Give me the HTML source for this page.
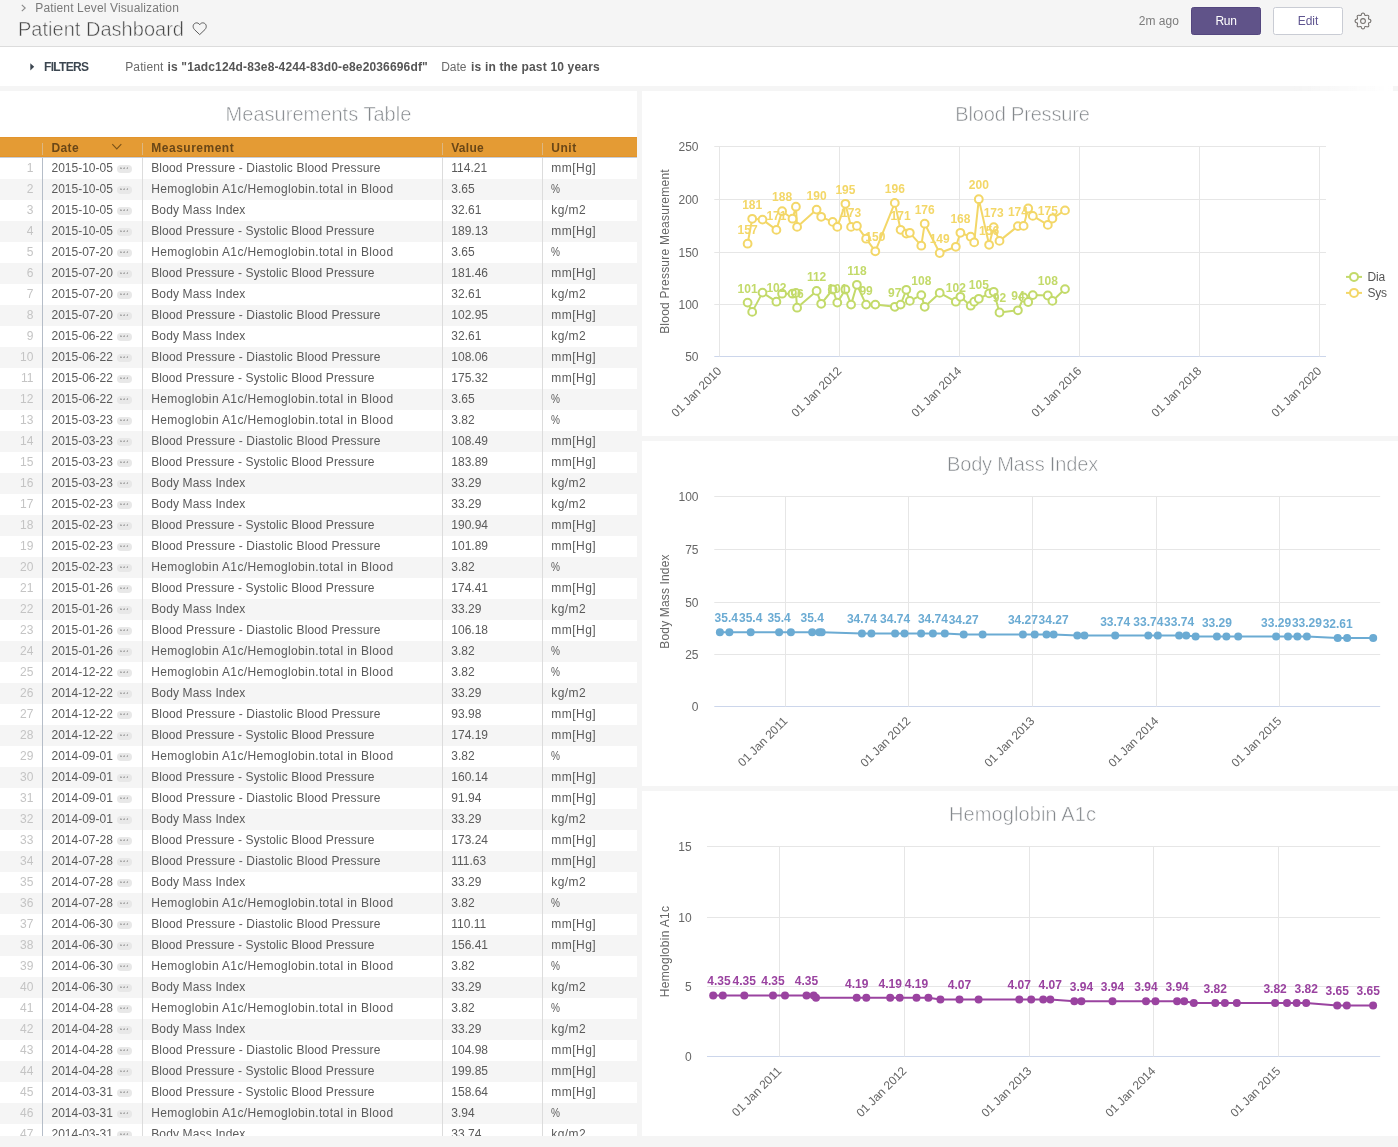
<!DOCTYPE html>
<html><head><meta charset="utf-8"><title>Patient Dashboard</title>
<style>
*{box-sizing:border-box}
html,body{margin:0;padding:0}
body{width:1398px;height:1147px;overflow:hidden;background:#f5f5f5;font-family:"Liberation Sans", sans-serif;font-size:12px;color:#5a5a5a;position:relative}
#wrap{position:absolute;left:0;top:0;width:1398px;height:1147px;overflow:hidden;will-change:transform}
.abs{position:absolute;white-space:pre}
#hdr{position:absolute;left:0;top:0;width:1398px;height:47px;background:#f5f5f5;border-bottom:1px solid #dcdcdc}
#flt{position:absolute;left:0;top:47px;width:1398px;height:39px;background:#fff}
.card{position:absolute;background:#fff;overflow:hidden}
.ttl{position:absolute;font-size:20px;color:#84888c;-webkit-text-stroke:.55px #fff;white-space:pre;text-align:center;line-height:24px}
#thead{position:absolute;left:0;top:46px;width:637px;height:20px;background:#e49b34;box-shadow:inset 0 1px 0 #e3942c,inset 0 -1px 0 #e3942c}
#thead span{position:absolute;top:1px;line-height:20px;font-weight:700;color:#6a4717;white-space:pre}
#thead i{position:absolute;top:6px;width:1px;height:12px;background:#dcb782}
#hline{position:absolute;left:0;top:66px;width:637px;height:1px;background:#c6ced8}
#tb{position:absolute;left:0;top:67px;width:637px}
.r{position:relative;height:21px;line-height:19px;white-space:pre}
.r:nth-child(even){background:#f5f5f5}
.r span{position:absolute;top:1px}
.n{right:603.6px;color:#c4c4c4}
.d{left:51.5px}
.p{left:117px;top:7px!important;width:15px;height:8px;border-radius:4px;background:radial-gradient(circle at 3.9px 3.25px,#ababab .7px,rgba(171,171,171,0) 1.1px),radial-gradient(circle at 7.2px 3.25px,#ababab .7px,rgba(171,171,171,0) 1.1px),radial-gradient(circle at 10.4px 3.25px,#ababab .7px,rgba(171,171,171,0) 1.1px),#e8e8e8}
.m{left:151.2px}
.m1{letter-spacing:.145px} .m2{letter-spacing:.1px} .m3{letter-spacing:.37px} .m4{letter-spacing:.15px}
.v{left:451.3px}
.u{left:551.3px}
.u1{letter-spacing:.48px} .u2{letter-spacing:.42px} .u3{display:inline-block;transform:scaleX(.84);transform-origin:0 50%}
.vl{position:absolute;top:46px;bottom:0;width:1px}
</style></head>
<body>
<div id="wrap">
<div id="hdr">
<svg style="position:absolute;left:20px;top:3px" width="8" height="10" viewBox="0 0 8 10"><path d="M1.8 1.8 L5.2 5 L1.8 8.2" fill="none" stroke="#8a8a8a" stroke-width="1.1"/></svg>
<span class="abs" style="left:35.3px;top:0;line-height:16px;font-size:12px;color:#7a7a7a;letter-spacing:.14px">Patient Level Visualization</span>
<span class="abs" style="left:18px;top:16px;line-height:26px;font-size:20px;color:#444;-webkit-text-stroke:.55px #f5f5f5;letter-spacing:.02px">Patient Dashboard</span>
<svg style="position:absolute;left:191px;top:21px" width="18" height="16" viewBox="191 21 18 16"><path d="M199.7 34.6 L194.4 29.5 C192.4 27.3 192.8 23.9 195.6 23 C197.2 22.5 198.8 23.2 199.7 24.7 C200.6 23.2 202.2 22.5 203.8 23 C206.6 23.9 207 27.3 205 29.5 Z" fill="none" stroke="#5c5c5c" stroke-width="1" stroke-linejoin="round"/></svg>
<span class="abs" style="left:1138.8px;top:11px;line-height:20px;font-size:12px;color:#7c7c7c">2m ago</span>
<div style="position:absolute;left:1191px;top:7px;width:70px;height:28px;border-radius:2.5px;background:#605389;border:1px solid #54477f;color:#fff;text-align:center;line-height:27px;letter-spacing:-.3px">Run</div>
<div style="position:absolute;left:1273px;top:7px;width:70px;height:28px;border-radius:2.5px;background:#fff;border:1px solid #c9ccd4;color:#5f5590;text-align:center;line-height:27px">Edit</div>
<svg style="position:absolute;left:1353px;top:11px" width="20" height="20" viewBox="-10 -10 20 20"><path d="M-1.90 -5.55 C-1.70 -7.30 -1.00 -7.95 0.00 -7.95 C1.00 -7.95 1.70 -7.30 1.90 -5.55 C3.00 -5.30 3.80 -5.75 4.70 -5.85 Q5.85 -5.85 5.85 -4.70 C5.75 -3.80 5.30 -3.00 5.55 -1.90 L5.55 -1.90 C7.30 -1.70 7.95 -1.00 7.95 0.00 C7.95 1.00 7.30 1.70 5.55 1.90 C5.30 3.00 5.75 3.80 5.85 4.70 Q5.85 5.85 4.70 5.85 C3.80 5.75 3.00 5.30 1.90 5.55 L1.90 5.55 C1.70 7.30 1.00 7.95 0.00 7.95 C-1.00 7.95 -1.70 7.30 -1.90 5.55 C-3.00 5.30 -3.80 5.75 -4.70 5.85 Q-5.85 5.85 -5.85 4.70 C-5.75 3.80 -5.30 3.00 -5.55 1.90 L-5.55 1.90 C-7.30 1.70 -7.95 1.00 -7.95 0.00 C-7.95 -1.00 -7.30 -1.70 -5.55 -1.90 C-5.30 -3.00 -5.75 -3.80 -5.85 -4.70 Q-5.85 -5.85 -4.70 -5.85 C-3.80 -5.75 -3.00 -5.30 -1.90 -5.55 Z" fill="none" stroke="#75716e" stroke-width="1.05" stroke-linejoin="round"/><circle cx="0" cy="0" r="2.4" fill="none" stroke="#75716e" stroke-width="1.05"/></svg>
</div>
<div id="flt">
<svg style="position:absolute;left:29px;top:15px" width="8" height="10" viewBox="0 0 8 10"><path d="M1.3 1.2 L5.2 4.8 L1.3 8.4 Z" fill="#3c4650"/></svg>
<span class="abs" style="left:44px;top:10px;line-height:20px;font-weight:700;color:#3c4650;letter-spacing:-.7px">FILTERS</span>
<span class="abs" style="left:125.2px;top:10px;line-height:20px;color:#6a6a6a;letter-spacing:.13px">Patient</span>
<span class="abs" style="left:167.5px;top:10px;line-height:20px;font-weight:700;color:#555;letter-spacing:.15px">is "1adc124d-83e8-4244-83d0-e8e2036696df"</span>
<span class="abs" style="left:441.2px;top:10px;line-height:20px;color:#6a6a6a">Date</span>
<span class="abs" style="left:471px;top:10px;line-height:20px;font-weight:700;color:#555;letter-spacing:.18px">is in the past 10 years</span>
</div>
<div style="position:absolute;left:1293px;top:47px;width:100px;height:44px;background:linear-gradient(to right,rgba(255,255,255,0),#fff)"></div>
<div class="card" id="tcard" style="left:0;top:91px;width:637px;height:1045px">
<div class="ttl" style="left:0;width:637px;top:10.5px;letter-spacing:.03px">Measurements Table</div>
<div id="thead"><i style="left:42px"></i><i style="left:142px"></i><i style="left:442px"></i><i style="left:542px"></i><span style="left:51.5px;letter-spacing:.37px">Date</span><svg style="position:absolute;left:111px;top:6px" width="12" height="8" viewBox="0 0 12 8"><path d="M1.3 1.2 L5.8 5.9 L10.3 1.2" fill="none" stroke="#7a5218" stroke-width="1.1"/></svg><span style="left:151.3px;letter-spacing:.5px">Measurement</span><span style="left:451.2px;letter-spacing:.3px">Value</span><span style="left:551.3px;letter-spacing:.5px">Unit</span></div><div id="hline"></div>
<div id="tb">
<div class="r"><span class="n">1</span><span class="d">2015-10-05</span><span class="p"></span><span class="m m1">Blood Pressure - Diastolic Blood Pressure</span><span class="v">114.21</span><span class="u u1">mm[Hg]</span></div>
<div class="r"><span class="n">2</span><span class="d">2015-10-05</span><span class="p"></span><span class="m m3">Hemoglobin A1c/Hemoglobin.total in Blood</span><span class="v">3.65</span><span class="u u3">%</span></div>
<div class="r"><span class="n">3</span><span class="d">2015-10-05</span><span class="p"></span><span class="m m4">Body Mass Index</span><span class="v">32.61</span><span class="u u2">kg/m2</span></div>
<div class="r"><span class="n">4</span><span class="d">2015-10-05</span><span class="p"></span><span class="m m2">Blood Pressure - Systolic Blood Pressure</span><span class="v">189.13</span><span class="u u1">mm[Hg]</span></div>
<div class="r"><span class="n">5</span><span class="d">2015-07-20</span><span class="p"></span><span class="m m3">Hemoglobin A1c/Hemoglobin.total in Blood</span><span class="v">3.65</span><span class="u u3">%</span></div>
<div class="r"><span class="n">6</span><span class="d">2015-07-20</span><span class="p"></span><span class="m m2">Blood Pressure - Systolic Blood Pressure</span><span class="v">181.46</span><span class="u u1">mm[Hg]</span></div>
<div class="r"><span class="n">7</span><span class="d">2015-07-20</span><span class="p"></span><span class="m m4">Body Mass Index</span><span class="v">32.61</span><span class="u u2">kg/m2</span></div>
<div class="r"><span class="n">8</span><span class="d">2015-07-20</span><span class="p"></span><span class="m m1">Blood Pressure - Diastolic Blood Pressure</span><span class="v">102.95</span><span class="u u1">mm[Hg]</span></div>
<div class="r"><span class="n">9</span><span class="d">2015-06-22</span><span class="p"></span><span class="m m4">Body Mass Index</span><span class="v">32.61</span><span class="u u2">kg/m2</span></div>
<div class="r"><span class="n">10</span><span class="d">2015-06-22</span><span class="p"></span><span class="m m1">Blood Pressure - Diastolic Blood Pressure</span><span class="v">108.06</span><span class="u u1">mm[Hg]</span></div>
<div class="r"><span class="n">11</span><span class="d">2015-06-22</span><span class="p"></span><span class="m m2">Blood Pressure - Systolic Blood Pressure</span><span class="v">175.32</span><span class="u u1">mm[Hg]</span></div>
<div class="r"><span class="n">12</span><span class="d">2015-06-22</span><span class="p"></span><span class="m m3">Hemoglobin A1c/Hemoglobin.total in Blood</span><span class="v">3.65</span><span class="u u3">%</span></div>
<div class="r"><span class="n">13</span><span class="d">2015-03-23</span><span class="p"></span><span class="m m3">Hemoglobin A1c/Hemoglobin.total in Blood</span><span class="v">3.82</span><span class="u u3">%</span></div>
<div class="r"><span class="n">14</span><span class="d">2015-03-23</span><span class="p"></span><span class="m m1">Blood Pressure - Diastolic Blood Pressure</span><span class="v">108.49</span><span class="u u1">mm[Hg]</span></div>
<div class="r"><span class="n">15</span><span class="d">2015-03-23</span><span class="p"></span><span class="m m2">Blood Pressure - Systolic Blood Pressure</span><span class="v">183.89</span><span class="u u1">mm[Hg]</span></div>
<div class="r"><span class="n">16</span><span class="d">2015-03-23</span><span class="p"></span><span class="m m4">Body Mass Index</span><span class="v">33.29</span><span class="u u2">kg/m2</span></div>
<div class="r"><span class="n">17</span><span class="d">2015-02-23</span><span class="p"></span><span class="m m4">Body Mass Index</span><span class="v">33.29</span><span class="u u2">kg/m2</span></div>
<div class="r"><span class="n">18</span><span class="d">2015-02-23</span><span class="p"></span><span class="m m2">Blood Pressure - Systolic Blood Pressure</span><span class="v">190.94</span><span class="u u1">mm[Hg]</span></div>
<div class="r"><span class="n">19</span><span class="d">2015-02-23</span><span class="p"></span><span class="m m1">Blood Pressure - Diastolic Blood Pressure</span><span class="v">101.89</span><span class="u u1">mm[Hg]</span></div>
<div class="r"><span class="n">20</span><span class="d">2015-02-23</span><span class="p"></span><span class="m m3">Hemoglobin A1c/Hemoglobin.total in Blood</span><span class="v">3.82</span><span class="u u3">%</span></div>
<div class="r"><span class="n">21</span><span class="d">2015-01-26</span><span class="p"></span><span class="m m2">Blood Pressure - Systolic Blood Pressure</span><span class="v">174.41</span><span class="u u1">mm[Hg]</span></div>
<div class="r"><span class="n">22</span><span class="d">2015-01-26</span><span class="p"></span><span class="m m4">Body Mass Index</span><span class="v">33.29</span><span class="u u2">kg/m2</span></div>
<div class="r"><span class="n">23</span><span class="d">2015-01-26</span><span class="p"></span><span class="m m1">Blood Pressure - Diastolic Blood Pressure</span><span class="v">106.18</span><span class="u u1">mm[Hg]</span></div>
<div class="r"><span class="n">24</span><span class="d">2015-01-26</span><span class="p"></span><span class="m m3">Hemoglobin A1c/Hemoglobin.total in Blood</span><span class="v">3.82</span><span class="u u3">%</span></div>
<div class="r"><span class="n">25</span><span class="d">2014-12-22</span><span class="p"></span><span class="m m3">Hemoglobin A1c/Hemoglobin.total in Blood</span><span class="v">3.82</span><span class="u u3">%</span></div>
<div class="r"><span class="n">26</span><span class="d">2014-12-22</span><span class="p"></span><span class="m m4">Body Mass Index</span><span class="v">33.29</span><span class="u u2">kg/m2</span></div>
<div class="r"><span class="n">27</span><span class="d">2014-12-22</span><span class="p"></span><span class="m m1">Blood Pressure - Diastolic Blood Pressure</span><span class="v">93.98</span><span class="u u1">mm[Hg]</span></div>
<div class="r"><span class="n">28</span><span class="d">2014-12-22</span><span class="p"></span><span class="m m2">Blood Pressure - Systolic Blood Pressure</span><span class="v">174.19</span><span class="u u1">mm[Hg]</span></div>
<div class="r"><span class="n">29</span><span class="d">2014-09-01</span><span class="p"></span><span class="m m3">Hemoglobin A1c/Hemoglobin.total in Blood</span><span class="v">3.82</span><span class="u u3">%</span></div>
<div class="r"><span class="n">30</span><span class="d">2014-09-01</span><span class="p"></span><span class="m m2">Blood Pressure - Systolic Blood Pressure</span><span class="v">160.14</span><span class="u u1">mm[Hg]</span></div>
<div class="r"><span class="n">31</span><span class="d">2014-09-01</span><span class="p"></span><span class="m m1">Blood Pressure - Diastolic Blood Pressure</span><span class="v">91.94</span><span class="u u1">mm[Hg]</span></div>
<div class="r"><span class="n">32</span><span class="d">2014-09-01</span><span class="p"></span><span class="m m4">Body Mass Index</span><span class="v">33.29</span><span class="u u2">kg/m2</span></div>
<div class="r"><span class="n">33</span><span class="d">2014-07-28</span><span class="p"></span><span class="m m2">Blood Pressure - Systolic Blood Pressure</span><span class="v">173.24</span><span class="u u1">mm[Hg]</span></div>
<div class="r"><span class="n">34</span><span class="d">2014-07-28</span><span class="p"></span><span class="m m1">Blood Pressure - Diastolic Blood Pressure</span><span class="v">111.63</span><span class="u u1">mm[Hg]</span></div>
<div class="r"><span class="n">35</span><span class="d">2014-07-28</span><span class="p"></span><span class="m m4">Body Mass Index</span><span class="v">33.29</span><span class="u u2">kg/m2</span></div>
<div class="r"><span class="n">36</span><span class="d">2014-07-28</span><span class="p"></span><span class="m m3">Hemoglobin A1c/Hemoglobin.total in Blood</span><span class="v">3.82</span><span class="u u3">%</span></div>
<div class="r"><span class="n">37</span><span class="d">2014-06-30</span><span class="p"></span><span class="m m1">Blood Pressure - Diastolic Blood Pressure</span><span class="v">110.11</span><span class="u u1">mm[Hg]</span></div>
<div class="r"><span class="n">38</span><span class="d">2014-06-30</span><span class="p"></span><span class="m m2">Blood Pressure - Systolic Blood Pressure</span><span class="v">156.41</span><span class="u u1">mm[Hg]</span></div>
<div class="r"><span class="n">39</span><span class="d">2014-06-30</span><span class="p"></span><span class="m m3">Hemoglobin A1c/Hemoglobin.total in Blood</span><span class="v">3.82</span><span class="u u3">%</span></div>
<div class="r"><span class="n">40</span><span class="d">2014-06-30</span><span class="p"></span><span class="m m4">Body Mass Index</span><span class="v">33.29</span><span class="u u2">kg/m2</span></div>
<div class="r"><span class="n">41</span><span class="d">2014-04-28</span><span class="p"></span><span class="m m3">Hemoglobin A1c/Hemoglobin.total in Blood</span><span class="v">3.82</span><span class="u u3">%</span></div>
<div class="r"><span class="n">42</span><span class="d">2014-04-28</span><span class="p"></span><span class="m m4">Body Mass Index</span><span class="v">33.29</span><span class="u u2">kg/m2</span></div>
<div class="r"><span class="n">43</span><span class="d">2014-04-28</span><span class="p"></span><span class="m m1">Blood Pressure - Diastolic Blood Pressure</span><span class="v">104.98</span><span class="u u1">mm[Hg]</span></div>
<div class="r"><span class="n">44</span><span class="d">2014-04-28</span><span class="p"></span><span class="m m2">Blood Pressure - Systolic Blood Pressure</span><span class="v">199.85</span><span class="u u1">mm[Hg]</span></div>
<div class="r"><span class="n">45</span><span class="d">2014-03-31</span><span class="p"></span><span class="m m2">Blood Pressure - Systolic Blood Pressure</span><span class="v">158.64</span><span class="u u1">mm[Hg]</span></div>
<div class="r"><span class="n">46</span><span class="d">2014-03-31</span><span class="p"></span><span class="m m3">Hemoglobin A1c/Hemoglobin.total in Blood</span><span class="v">3.94</span><span class="u u3">%</span></div>
<div class="r"><span class="n">47</span><span class="d">2014-03-31</span><span class="p"></span><span class="m m4">Body Mass Index</span><span class="v">33.74</span><span class="u u2">kg/m2</span></div>
</div>
<div class="vl" style="left:42px;top:67px;background:#b5bdc8;width:1px"></div>
<div class="vl" style="left:142px;top:67px;background:#dcdcdc"></div>
<div class="vl" style="left:442px;top:67px;background:#dcdcdc"></div>
<div class="vl" style="left:542px;top:67px;background:#dcdcdc"></div>
</div>
<div class="card" style="left:642px;top:91px;width:756px;height:345px;background:#fff"><div class="ttl" style="left:0;width:761px;top:10.5px;letter-spacing:-0.17px">Blood Pressure</div><svg style="position:absolute;left:0;top:0" width="756" height="345" viewBox="642 91 756 345" font-family="Liberation Sans, sans-serif" font-size="12"><path d="M714.3 146.5H1326" stroke="#e6e6e6" stroke-width="1"/><text x="698.5" y="151.1" text-anchor="end" fill="#666">250</text><path d="M714.3 199.5H1326" stroke="#e6e6e6" stroke-width="1"/><text x="698.5" y="204.1" text-anchor="end" fill="#666">200</text><path d="M714.3 252.5H1326" stroke="#e6e6e6" stroke-width="1"/><text x="698.5" y="257.1" text-anchor="end" fill="#666">150</text><path d="M714.3 304.5H1326" stroke="#e6e6e6" stroke-width="1"/><text x="698.5" y="309.1" text-anchor="end" fill="#666">100</text><path d="M714.3 356.5H1326" stroke="#ccd6eb" stroke-width="1"/><text x="698.5" y="361.1" text-anchor="end" fill="#666">50</text><path d="M719.5 146.5V356.5" stroke="#e6e6e6" stroke-width="1"/><text transform="translate(722.1 371.9) rotate(-45)" text-anchor="end" fill="#666" letter-spacing="-.1">01 Jan 2010</text><path d="M839.5 146.5V356.5" stroke="#e6e6e6" stroke-width="1"/><text transform="translate(842.1 371.9) rotate(-45)" text-anchor="end" fill="#666" letter-spacing="-.1">01 Jan 2012</text><path d="M959.5 146.5V356.5" stroke="#e6e6e6" stroke-width="1"/><text transform="translate(962.1 371.9) rotate(-45)" text-anchor="end" fill="#666" letter-spacing="-.1">01 Jan 2014</text><path d="M1079.5 146.5V356.5" stroke="#e6e6e6" stroke-width="1"/><text transform="translate(1082.1 371.9) rotate(-45)" text-anchor="end" fill="#666" letter-spacing="-.1">01 Jan 2016</text><path d="M1199.5 146.5V356.5" stroke="#e6e6e6" stroke-width="1"/><text transform="translate(1202.1 371.9) rotate(-45)" text-anchor="end" fill="#666" letter-spacing="-.1">01 Jan 2018</text><path d="M1319.5 146.5V356.5" stroke="#e6e6e6" stroke-width="1"/><text transform="translate(1322.1 371.9) rotate(-45)" text-anchor="end" fill="#666" letter-spacing="-.1">01 Jan 2020</text><text transform="translate(668.6 251.5) rotate(-90)" text-anchor="middle" fill="#666" letter-spacing="0.23">Blood Pressure Measurement</text><path d="M747.6 302.6L752.2 311.9L762.5 292.6L776.4 301.7L782.1 293.7L792.5 293.7L795.9 292.9L797.1 307.7L816.6 290.9L821.2 303.8L832.7 289.5L837.3 302.6L845.4 289.5L851.1 304.6L856.9 284.8L866.1 304.6L875.3 304.6L894.8 306.8L900.6 304.6L906.3 289.8L909.8 300.9L921.3 295.1L924.7 306.8L939.7 292.9L955.8 301.7L960.4 296.8L970.7 305.7L974.2 301.7L978.8 298.8L989.1 293.4L993.7 291.8L999.5 312.5L1017.9 310.3L1023.6 297.5L1028.2 302.0L1032.8 295.1L1047.8 295.5L1052.4 300.9L1065.0 289.1" fill="none" stroke="#c3da6a" stroke-width="2" stroke-linejoin="round" stroke-linecap="round"/><g fill="#fff" stroke="#c3da6a" stroke-width="2"><circle cx="747.6" cy="302.6" r="3.9"/><circle cx="752.2" cy="311.9" r="3.9"/><circle cx="762.5" cy="292.6" r="3.9"/><circle cx="776.4" cy="301.7" r="3.9"/><circle cx="782.1" cy="293.7" r="3.9"/><circle cx="792.5" cy="293.7" r="3.9"/><circle cx="795.9" cy="292.9" r="3.9"/><circle cx="797.1" cy="307.7" r="3.9"/><circle cx="816.6" cy="290.9" r="3.9"/><circle cx="821.2" cy="303.8" r="3.9"/><circle cx="832.7" cy="289.5" r="3.9"/><circle cx="837.3" cy="302.6" r="3.9"/><circle cx="845.4" cy="289.5" r="3.9"/><circle cx="851.1" cy="304.6" r="3.9"/><circle cx="856.9" cy="284.8" r="3.9"/><circle cx="866.1" cy="304.6" r="3.9"/><circle cx="875.3" cy="304.6" r="3.9"/><circle cx="894.8" cy="306.8" r="3.9"/><circle cx="900.6" cy="304.6" r="3.9"/><circle cx="906.3" cy="289.8" r="3.9"/><circle cx="909.8" cy="300.9" r="3.9"/><circle cx="921.3" cy="295.1" r="3.9"/><circle cx="924.7" cy="306.8" r="3.9"/><circle cx="939.7" cy="292.9" r="3.9"/><circle cx="955.8" cy="301.7" r="3.9"/><circle cx="960.4" cy="296.8" r="3.9"/><circle cx="970.7" cy="305.7" r="3.9"/><circle cx="974.2" cy="301.7" r="3.9"/><circle cx="978.8" cy="298.8" r="3.9"/><circle cx="989.1" cy="293.4" r="3.9"/><circle cx="993.7" cy="291.8" r="3.9"/><circle cx="999.5" cy="312.5" r="3.9"/><circle cx="1017.9" cy="310.3" r="3.9"/><circle cx="1023.6" cy="297.5" r="3.9"/><circle cx="1028.2" cy="302.0" r="3.9"/><circle cx="1032.8" cy="295.1" r="3.9"/><circle cx="1047.8" cy="295.5" r="3.9"/><circle cx="1052.4" cy="300.9" r="3.9"/><circle cx="1065.0" cy="289.1" r="3.9"/></g><path d="M747.6 243.7L752.2 218.8L762.5 219.6L776.4 229.9L782.1 211.2L792.5 218.7L795.9 206.7L797.1 226.9L816.6 209.6L821.2 216.8L832.7 221.9L837.3 226.9L845.4 203.8L851.1 226.9L856.9 225.9L866.1 238.7L875.3 251.3L894.8 202.9L900.6 229.8L906.3 233.6L909.8 232.8L921.3 245.7L924.7 223.7L939.7 253.0L955.8 246.8L960.4 232.8L970.7 236.7L974.2 242.4L978.8 199.2L989.1 244.8L993.7 227.1L999.5 240.9L1017.9 226.1L1023.6 225.9L1028.2 208.5L1032.8 215.9L1047.8 224.9L1052.4 218.5L1065.0 210.4" fill="none" stroke="#f3d768" stroke-width="2" stroke-linejoin="round" stroke-linecap="round"/><g fill="#fff" stroke="#f3d768" stroke-width="2"><circle cx="747.6" cy="243.7" r="3.9"/><circle cx="752.2" cy="218.8" r="3.9"/><circle cx="762.5" cy="219.6" r="3.9"/><circle cx="776.4" cy="229.9" r="3.9"/><circle cx="782.1" cy="211.2" r="3.9"/><circle cx="792.5" cy="218.7" r="3.9"/><circle cx="795.9" cy="206.7" r="3.9"/><circle cx="797.1" cy="226.9" r="3.9"/><circle cx="816.6" cy="209.6" r="3.9"/><circle cx="821.2" cy="216.8" r="3.9"/><circle cx="832.7" cy="221.9" r="3.9"/><circle cx="837.3" cy="226.9" r="3.9"/><circle cx="845.4" cy="203.8" r="3.9"/><circle cx="851.1" cy="226.9" r="3.9"/><circle cx="856.9" cy="225.9" r="3.9"/><circle cx="866.1" cy="238.7" r="3.9"/><circle cx="875.3" cy="251.3" r="3.9"/><circle cx="894.8" cy="202.9" r="3.9"/><circle cx="900.6" cy="229.8" r="3.9"/><circle cx="906.3" cy="233.6" r="3.9"/><circle cx="909.8" cy="232.8" r="3.9"/><circle cx="921.3" cy="245.7" r="3.9"/><circle cx="924.7" cy="223.7" r="3.9"/><circle cx="939.7" cy="253.0" r="3.9"/><circle cx="955.8" cy="246.8" r="3.9"/><circle cx="960.4" cy="232.8" r="3.9"/><circle cx="970.7" cy="236.7" r="3.9"/><circle cx="974.2" cy="242.4" r="3.9"/><circle cx="978.8" cy="199.2" r="3.9"/><circle cx="989.1" cy="244.8" r="3.9"/><circle cx="993.7" cy="227.1" r="3.9"/><circle cx="999.5" cy="240.9" r="3.9"/><circle cx="1017.9" cy="226.1" r="3.9"/><circle cx="1023.6" cy="225.9" r="3.9"/><circle cx="1028.2" cy="208.5" r="3.9"/><circle cx="1032.8" cy="215.9" r="3.9"/><circle cx="1047.8" cy="224.9" r="3.9"/><circle cx="1052.4" cy="218.5" r="3.9"/><circle cx="1065.0" cy="210.4" r="3.9"/></g><g fill="#c3da6a" font-weight="700" font-size="12" text-anchor="middle"><text x="747.6" y="292.5">101</text><text x="776.4" y="291.6">102</text><text x="797.1" y="297.6">96</text><text x="816.6" y="280.8">112</text><text x="837.3" y="292.5">101</text><text x="856.9" y="274.7">118</text><text x="866.1" y="294.5">99</text><text x="894.8" y="296.7">97</text><text x="921.3" y="285.0">108</text><text x="955.8" y="291.6">102</text><text x="978.8" y="288.7">105</text><text x="999.5" y="302.4">92</text><text x="1017.9" y="300.2">94</text><text x="1047.8" y="285.4">108</text></g><g fill="#f3d768" font-weight="700" font-size="12" text-anchor="middle"><text x="747.6" y="233.6">157</text><text x="752.2" y="208.7">181</text><text x="776.4" y="219.8">171</text><text x="782.1" y="201.1">188</text><text x="816.6" y="199.5">190</text><text x="845.4" y="193.7">195</text><text x="851.1" y="216.8">173</text><text x="875.3" y="241.2">150</text><text x="894.8" y="192.8">196</text><text x="900.6" y="219.7">171</text><text x="924.7" y="213.6">176</text><text x="939.7" y="242.9">149</text><text x="960.4" y="222.7">168</text><text x="978.8" y="189.1">200</text><text x="989.1" y="234.7">156</text><text x="993.7" y="217.0">173</text><text x="1017.9" y="216.0">174</text><text x="1047.8" y="214.8">175</text></g><path d="M1346 276.9H1362" stroke="#c3da6a" stroke-width="2"/><circle cx="1354" cy="276.9" r="4" fill="#fff" stroke="#c3da6a" stroke-width="2"/><text x="1367.5" y="281.0" fill="#555" letter-spacing="-.2">Dia</text><path d="M1346 292.9H1362" stroke="#f3d768" stroke-width="2"/><circle cx="1354" cy="292.9" r="4" fill="#fff" stroke="#f3d768" stroke-width="2"/><text x="1367.5" y="297.0" fill="#555" letter-spacing="-.2">Sys</text></svg></div>
<div class="card" style="left:642px;top:441px;width:756px;height:345px;background:#fff"><div class="ttl" style="left:0;width:761px;top:10.5px;letter-spacing:-0.16px">Body Mass Index</div><svg style="position:absolute;left:0;top:0" width="756" height="345" viewBox="642 441 756 345" font-family="Liberation Sans, sans-serif" font-size="12"><path d="M714.3 496.5H1380.2" stroke="#e6e6e6" stroke-width="1"/><text x="698.5" y="501.1" text-anchor="end" fill="#666">100</text><path d="M714.3 549.5H1380.2" stroke="#e6e6e6" stroke-width="1"/><text x="698.5" y="554.1" text-anchor="end" fill="#666">75</text><path d="M714.3 602.5H1380.2" stroke="#e6e6e6" stroke-width="1"/><text x="698.5" y="607.1" text-anchor="end" fill="#666">50</text><path d="M714.3 654.5H1380.2" stroke="#e6e6e6" stroke-width="1"/><text x="698.5" y="659.1" text-anchor="end" fill="#666">25</text><path d="M714.3 706.5H1380.2" stroke="#ccd6eb" stroke-width="1"/><text x="698.5" y="711.1" text-anchor="end" fill="#666">0</text><path d="M785.5 496.5V706.5" stroke="#e6e6e6" stroke-width="1"/><text transform="translate(788.1 721.9) rotate(-45)" text-anchor="end" fill="#666" letter-spacing="-.1">01 Jan 2011</text><path d="M908.5 496.5V706.5" stroke="#e6e6e6" stroke-width="1"/><text transform="translate(911.1 721.9) rotate(-45)" text-anchor="end" fill="#666" letter-spacing="-.1">01 Jan 2012</text><path d="M1032.5 496.5V706.5" stroke="#e6e6e6" stroke-width="1"/><text transform="translate(1035.1 721.9) rotate(-45)" text-anchor="end" fill="#666" letter-spacing="-.1">01 Jan 2013</text><path d="M1156.5 496.5V706.5" stroke="#e6e6e6" stroke-width="1"/><text transform="translate(1159.1 721.9) rotate(-45)" text-anchor="end" fill="#666" letter-spacing="-.1">01 Jan 2014</text><path d="M1279.5 496.5V706.5" stroke="#e6e6e6" stroke-width="1"/><text transform="translate(1282.1 721.9) rotate(-45)" text-anchor="end" fill="#666" letter-spacing="-.1">01 Jan 2015</text><text transform="translate(668.6 601.5) rotate(-90)" text-anchor="middle" fill="#666" letter-spacing="0.15">Body Mass Index</text><path d="M719.9 632.2L729.4 632.2L750.7 632.2L779.1 632.2L790.9 632.2L812.2 632.2L819.3 632.2L821.7 632.2L861.9 633.5L871.4 633.5L895.1 633.5L904.5 633.5L921.1 633.5L932.9 633.5L944.8 633.5L963.7 634.5L982.6 634.5L1022.9 634.5L1034.7 634.5L1046.5 634.5L1053.6 634.5L1077.3 635.6L1084.4 635.6L1115.2 635.6L1148.3 635.6L1157.8 635.6L1179.1 635.6L1186.2 635.6L1195.6 636.6L1216.9 636.6L1226.4 636.6L1238.2 636.6L1276.1 636.6L1288.0 636.6L1297.4 636.6L1306.9 636.6L1337.7 638.0L1347.1 638.0L1373.2 638.0" fill="none" stroke="#6babd3" stroke-width="2" stroke-linejoin="round" stroke-linecap="round"/><g fill="#6babd3"><circle cx="719.9" cy="632.2" r="4"/><circle cx="729.4" cy="632.2" r="4"/><circle cx="750.7" cy="632.2" r="4"/><circle cx="779.1" cy="632.2" r="4"/><circle cx="790.9" cy="632.2" r="4"/><circle cx="812.2" cy="632.2" r="4"/><circle cx="819.3" cy="632.2" r="4"/><circle cx="821.7" cy="632.2" r="4"/><circle cx="861.9" cy="633.5" r="4"/><circle cx="871.4" cy="633.5" r="4"/><circle cx="895.1" cy="633.5" r="4"/><circle cx="904.5" cy="633.5" r="4"/><circle cx="921.1" cy="633.5" r="4"/><circle cx="932.9" cy="633.5" r="4"/><circle cx="944.8" cy="633.5" r="4"/><circle cx="963.7" cy="634.5" r="4"/><circle cx="982.6" cy="634.5" r="4"/><circle cx="1022.9" cy="634.5" r="4"/><circle cx="1034.7" cy="634.5" r="4"/><circle cx="1046.5" cy="634.5" r="4"/><circle cx="1053.6" cy="634.5" r="4"/><circle cx="1077.3" cy="635.6" r="4"/><circle cx="1084.4" cy="635.6" r="4"/><circle cx="1115.2" cy="635.6" r="4"/><circle cx="1148.3" cy="635.6" r="4"/><circle cx="1157.8" cy="635.6" r="4"/><circle cx="1179.1" cy="635.6" r="4"/><circle cx="1186.2" cy="635.6" r="4"/><circle cx="1195.6" cy="636.6" r="4"/><circle cx="1216.9" cy="636.6" r="4"/><circle cx="1226.4" cy="636.6" r="4"/><circle cx="1238.2" cy="636.6" r="4"/><circle cx="1276.1" cy="636.6" r="4"/><circle cx="1288.0" cy="636.6" r="4"/><circle cx="1297.4" cy="636.6" r="4"/><circle cx="1306.9" cy="636.6" r="4"/><circle cx="1337.7" cy="638.0" r="4"/><circle cx="1347.1" cy="638.0" r="4"/><circle cx="1373.2" cy="638.0" r="4"/></g><g fill="#6babd3" font-weight="700" font-size="12" text-anchor="middle"><text x="726.3" y="622.1">35.4</text><text x="750.7" y="622.1">35.4</text><text x="779.1" y="622.1">35.4</text><text x="812.2" y="622.1">35.4</text><text x="861.9" y="623.4">34.74</text><text x="895.1" y="623.4">34.74</text><text x="932.9" y="623.4">34.74</text><text x="963.7" y="624.4">34.27</text><text x="1022.9" y="624.4">34.27</text><text x="1053.6" y="624.4">34.27</text><text x="1115.2" y="625.5">33.74</text><text x="1148.3" y="625.5">33.74</text><text x="1179.1" y="625.5">33.74</text><text x="1216.9" y="626.5">33.29</text><text x="1276.1" y="626.5">33.29</text><text x="1306.9" y="626.5">33.29</text><text x="1337.7" y="627.9">32.61</text></g></svg></div>
<div class="card" style="left:642px;top:791px;width:756px;height:345px;background:#fff"><div class="ttl" style="left:0;width:761px;top:10.5px;letter-spacing:0.1px">Hemoglobin A1c</div><svg style="position:absolute;left:0;top:0" width="756" height="345" viewBox="642 791 756 345" font-family="Liberation Sans, sans-serif" font-size="12"><path d="M707 846.5H1380.2" stroke="#e6e6e6" stroke-width="1"/><text x="691.7" y="851.1" text-anchor="end" fill="#666">15</text><path d="M707 917.5H1380.2" stroke="#e6e6e6" stroke-width="1"/><text x="691.7" y="922.1" text-anchor="end" fill="#666">10</text><path d="M707 986.5H1380.2" stroke="#e6e6e6" stroke-width="1"/><text x="691.7" y="991.1" text-anchor="end" fill="#666">5</text><path d="M707 1056.5H1380.2" stroke="#ccd6eb" stroke-width="1"/><text x="691.7" y="1061.1" text-anchor="end" fill="#666">0</text><path d="M779.5 846.5V1056.5" stroke="#e6e6e6" stroke-width="1"/><text transform="translate(782.1 1071.9) rotate(-45)" text-anchor="end" fill="#666" letter-spacing="-.1">01 Jan 2011</text><path d="M904.5 846.5V1056.5" stroke="#e6e6e6" stroke-width="1"/><text transform="translate(907.1 1071.9) rotate(-45)" text-anchor="end" fill="#666" letter-spacing="-.1">01 Jan 2012</text><path d="M1029.5 846.5V1056.5" stroke="#e6e6e6" stroke-width="1"/><text transform="translate(1032.1 1071.9) rotate(-45)" text-anchor="end" fill="#666" letter-spacing="-.1">01 Jan 2013</text><path d="M1153.5 846.5V1056.5" stroke="#e6e6e6" stroke-width="1"/><text transform="translate(1156.1 1071.9) rotate(-45)" text-anchor="end" fill="#666" letter-spacing="-.1">01 Jan 2014</text><path d="M1278.5 846.5V1056.5" stroke="#e6e6e6" stroke-width="1"/><text transform="translate(1281.1 1071.9) rotate(-45)" text-anchor="end" fill="#666" letter-spacing="-.1">01 Jan 2015</text><text transform="translate(668.6 951.5) rotate(-90)" text-anchor="middle" fill="#666" letter-spacing="0.29">Hemoglobin A1c</text><path d="M713.2 995.6L722.8 995.6L744.3 995.6L773.0 995.6L785.0 995.6L806.5 995.6L813.7 995.6L816.0 997.8L856.7 997.8L866.3 997.8L890.2 997.8L899.7 997.8L916.5 997.8L928.4 997.8L940.4 999.5L959.5 999.5L978.6 999.5L1019.3 999.5L1031.2 999.5L1043.2 999.5L1050.3 999.5L1074.3 1001.3L1081.4 1001.3L1112.5 1001.3L1146.0 1001.3L1155.5 1001.3L1177.1 1001.3L1184.2 1001.3L1193.8 1003.0L1215.3 1003.0L1224.9 1003.0L1236.8 1003.0L1275.1 1003.0L1287.0 1003.0L1296.6 1003.0L1306.2 1003.0L1337.2 1005.4L1346.8 1005.4L1373.1 1005.4" fill="none" stroke="#9a43a0" stroke-width="2" stroke-linejoin="round" stroke-linecap="round"/><g fill="#9a43a0"><circle cx="713.2" cy="995.6" r="4"/><circle cx="722.8" cy="995.6" r="4"/><circle cx="744.3" cy="995.6" r="4"/><circle cx="773.0" cy="995.6" r="4"/><circle cx="785.0" cy="995.6" r="4"/><circle cx="806.5" cy="995.6" r="4"/><circle cx="813.7" cy="995.6" r="4"/><circle cx="816.0" cy="997.8" r="4"/><circle cx="856.7" cy="997.8" r="4"/><circle cx="866.3" cy="997.8" r="4"/><circle cx="890.2" cy="997.8" r="4"/><circle cx="899.7" cy="997.8" r="4"/><circle cx="916.5" cy="997.8" r="4"/><circle cx="928.4" cy="997.8" r="4"/><circle cx="940.4" cy="999.5" r="4"/><circle cx="959.5" cy="999.5" r="4"/><circle cx="978.6" cy="999.5" r="4"/><circle cx="1019.3" cy="999.5" r="4"/><circle cx="1031.2" cy="999.5" r="4"/><circle cx="1043.2" cy="999.5" r="4"/><circle cx="1050.3" cy="999.5" r="4"/><circle cx="1074.3" cy="1001.3" r="4"/><circle cx="1081.4" cy="1001.3" r="4"/><circle cx="1112.5" cy="1001.3" r="4"/><circle cx="1146.0" cy="1001.3" r="4"/><circle cx="1155.5" cy="1001.3" r="4"/><circle cx="1177.1" cy="1001.3" r="4"/><circle cx="1184.2" cy="1001.3" r="4"/><circle cx="1193.8" cy="1003.0" r="4"/><circle cx="1215.3" cy="1003.0" r="4"/><circle cx="1224.9" cy="1003.0" r="4"/><circle cx="1236.8" cy="1003.0" r="4"/><circle cx="1275.1" cy="1003.0" r="4"/><circle cx="1287.0" cy="1003.0" r="4"/><circle cx="1296.6" cy="1003.0" r="4"/><circle cx="1306.2" cy="1003.0" r="4"/><circle cx="1337.2" cy="1005.4" r="4"/><circle cx="1346.8" cy="1005.4" r="4"/><circle cx="1373.1" cy="1005.4" r="4"/></g><g fill="#9a43a0" font-weight="700" font-size="12" text-anchor="middle"><text x="719.0" y="985.3">4.35</text><text x="744.3" y="985.3">4.35</text><text x="773.0" y="985.3">4.35</text><text x="806.5" y="985.3">4.35</text><text x="856.7" y="987.5">4.19</text><text x="890.2" y="987.5">4.19</text><text x="916.5" y="987.5">4.19</text><text x="959.5" y="989.2">4.07</text><text x="1019.3" y="989.2">4.07</text><text x="1050.3" y="989.2">4.07</text><text x="1081.4" y="991.0">3.94</text><text x="1112.5" y="991.0">3.94</text><text x="1146.0" y="991.0">3.94</text><text x="1177.1" y="991.0">3.94</text><text x="1215.3" y="992.7">3.82</text><text x="1275.1" y="992.7">3.82</text><text x="1306.2" y="992.7">3.82</text><text x="1337.2" y="995.1">3.65</text><text x="1368.2" y="995.1">3.65</text></g></svg></div>
</div>
</body></html>
